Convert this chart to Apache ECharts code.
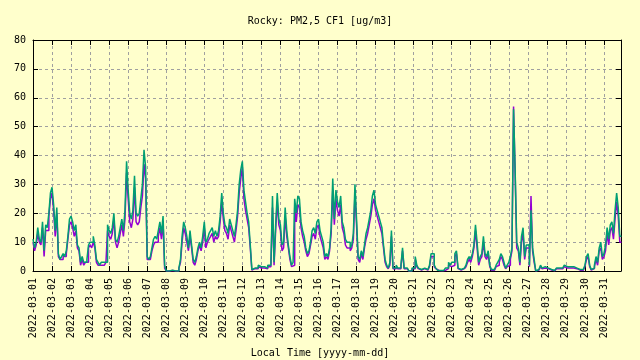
<!DOCTYPE html>
<html>
<head>
<meta charset="utf-8">
<script src="https://cdn.jsdelivr.net/npm/echarts@6/dist/echarts.min.js"></script>
<style>
html,body{margin:0;padding:0;background:#ffffcc;}
#chart{width:640px;height:360px;}
</style>
</head>
<body>
<div id="chart"></div>
<script>
// Data: 2-hour bins starting 2022-03-01 00:00 (12 values per day)
const startYearMonth = '2022-03-';
const stepHours = 2;
const yTicks = [0, 10, 20, 30, 40, 50, 60, 70, 80];

const tealValues = [
  11, 8, 10, 15, 11, 10, 17, 7, 16, 15, 20, 27,
  29, 23, 14, 22, 6, 4, 5, 6, 5, 7, 12, 18,
  19, 17, 14, 16, 9, 8, 3, 5, 3, 3, 4, 9,
  10, 10, 12, 9, 4, 3, 2, 3, 3, 3, 3, 16,
  14, 13, 15, 20, 11, 10, 12, 15, 18, 14, 21, 38,
  28, 20, 18, 21, 33, 20, 19, 20, 25, 30, 42, 36,
  5, 4, 5, 8, 11, 12, 11, 14, 17, 13, 19, 2,
  0, 0, 0.5, 0.3, 0, 0, 0, 0, 1, 4, 12, 17,
  15, 12, 8, 14, 9, 4, 3, 5, 8, 10, 8, 12,
  17, 10, 11, 13, 14, 15, 12, 14, 12, 14, 19, 27,
  20, 16, 15, 13, 18, 16, 14, 12, 16, 21, 30, 35,
  38, 28, 24, 20, 17, 9, 0.5, 1, 1.5, 1, 2, 1.5,
  2, 1.5, 1, 1, 2, 2, 2, 26, 3, 16, 27, 18,
  16, 9, 10, 22, 14, 9, 5, 2, 3, 25, 20, 26,
  25, 17, 14, 12, 8, 6, 7, 10, 14, 15, 13, 17,
  18, 14, 12, 10, 5, 6, 5, 8, 15, 32, 18, 28,
  24, 22, 26, 17, 15, 11, 10, 10, 8, 9, 13, 30,
  18, 5, 4, 7, 5, 9, 13, 15, 18, 21, 26, 28,
  23, 21, 19, 17, 15, 9, 4, 2, 1, 3, 14, 1,
  1, 2, 1, 1, 2, 8, 1, 1, 0.5, 0, 0, 1,
  1, 5, 2, 1, 0.5, 0.5, 1, 0.5, 0.5, 1, 2, 6,
  6, 2, 1, 0.3, 0.2, 0.2, 0.2, 0.3, 1, 1, 3, 2,
  3, 3, 6, 7, 1, 0.5, 0.5, 1, 1, 2, 4, 5,
  4, 6, 9, 16, 10, 3, 5, 6, 12, 6, 5, 7,
  2, 0.5, 0.5, 1, 2, 3, 4, 6, 5, 3, 1, 2,
  3, 5, 8, 56, 35, 10, 8, 3, 12, 15, 5, 9,
  9, 2, 21, 8, 4, 0, 0.5, 1, 2, 1, 1.5, 1,
  1, 1, 0.5, 0.3, 0.2, 0.3, 1, 1, 1.5, 1, 1.5, 2,
  1.5, 2, 1.5, 1.5, 1.5, 1, 1, 0.5, 0.5, 1, 0.5, 1,
  2, 5, 6, 2, 0.5, 1, 2, 5, 3, 8, 10, 5,
  6, 9, 15, 11, 16, 17, 13, 21, 27, 22, 12, 12
];

const purpleValues = [
  10, 7, 9, 13, 10, 9, 15, 5, 14, 14, 19, 25,
  27, 21, 12, 20, 5, 4, 4, 5, 5, 6, 11, 16,
  17, 15, 12, 14, 8, 7, 2, 4, 2, 3, 3, 8,
  9, 8, 10, 8, 3, 2, 2, 2, 2, 2, 3, 14,
  12, 11, 13, 18, 10, 8, 10, 13, 16, 12, 18, 34,
  25, 17, 15, 18, 29, 17, 16, 17, 22, 26, 37, 32,
  4, 4, 4, 7, 9, 10, 10, 12, 15, 11, 17, 1,
  0, 0, 0.3, 0.2, 0, 0, 0, 0, 1, 3, 10, 15,
  13, 10, 7, 12, 8, 3, 2, 4, 7, 9, 7, 10,
  15, 8, 10, 11, 12, 13, 10, 12, 11, 12, 17, 24,
  18, 14, 13, 11, 16, 14, 12, 10, 14, 19, 27, 32,
  36, 25, 21, 18, 15, 8, 0.3, 0.8, 1, 0.8, 1.5, 1,
  1.5, 1, 0.8, 0.8, 1.5, 1.5, 1.5, 22, 2, 14, 24, 16,
  14, 7, 8, 19, 12, 8, 4, 1.5, 2, 22, 17, 23,
  22, 15, 12, 10, 7, 5, 6, 9, 12, 13, 11, 15,
  16, 12, 10, 8, 4, 5, 4, 7, 13, 28, 16, 25,
  21, 19, 23, 15, 13, 9, 8, 8, 7, 8, 11, 27,
  16, 4, 3, 6, 4, 8, 11, 13, 16, 19, 23, 25,
  21, 19, 17, 15, 13, 8, 3, 1.5, 0.8, 2, 12, 0.8,
  0.8, 1.5, 0.8, 0.8, 1.5, 7, 0.8, 0.8, 0.3, 0, 0, 0.8,
  0.8, 4, 1.5, 0.8, 0.3, 0.3, 0.8, 0.3, 0.3, 0.8, 1.5, 5,
  5, 1.5, 0.8, 0.2, 0.1, 0.1, 0.1, 0.2, 0.8, 0.8, 2, 1.5,
  2, 2, 5, 6, 0.8, 0.3, 0.3, 0.8, 0.8, 1.5, 3, 4,
  3, 5, 8, 14, 8, 2, 4, 5, 10, 5, 4, 6,
  1.5, 0.3, 0.3, 0.8, 1.5, 2, 3, 5, 4, 2, 0.8, 1.5,
  2, 4, 7, 57, 34, 8, 7, 2, 10, 13, 4, 8,
  8, 1.5, 26, 7, 3, 0, 0.3, 0.8, 1.5, 0.8, 1, 0.8,
  0.8, 0.8, 0.3, 0.2, 0.1, 0.2, 0.8, 0.8, 1, 0.8, 1, 1.5,
  1, 1.5, 1, 1, 1, 0.8, 0.8, 0.3, 0.3, 0.8, 0.3, 0.8,
  1.5, 4, 5, 1.5, 0.3, 0.8, 1.5, 4, 2, 7, 8, 4,
  5, 7, 13, 9, 14, 15, 11, 18, 24, 19, 10, 10
];

const xMaxHours = 741.5;
const font = '"DejaVu Sans Mono", "Liberation Mono", monospace';

function toPairs(vals) {
  return vals.map((v, i) => [i * stepHours, v]);
}
function dayLabel(h) {
  const d = Math.round(h / 24) + 1;
  return startYearMonth + (d < 10 ? '0' + d : '' + d);
}

const chart = echarts.init(document.getElementById('chart'), null, {renderer: 'canvas'});
const gridLine = {show: true, lineStyle: {color: '#a0a0a0', type: [3, 3], width: 1}};
const blackLine = {show: true, onZero: false, lineStyle: {color: '#000', width: 1}};
const tick = {show: true, inside: true, length: 5, lineStyle: {color: '#000'}};

chart.setOption({
  backgroundColor: '#ffffcc',
  animation: false,
  title: [
    {text: 'Rocky: PM2,5 CF1 [ug/m3]', left: 'center', top: 11,
     textStyle: {fontFamily: font, fontSize: 10, fontWeight: 'normal', color: '#000'}},
    {text: 'Local Time [yyyy-mm-dd]', left: 'center', top: 343,
     textStyle: {fontFamily: font, fontSize: 10, fontWeight: 'normal', color: '#000'}}
  ],
  grid: {left: 33, right: 19, top: 40, bottom: 89, containLabel: false},
  xAxis: [
    {type: 'value', min: 0, max: xMaxHours, interval: 24, position: 'bottom',
     axisLine: blackLine, axisTick: tick, splitLine: gridLine,
     axisLabel: {rotate: 90, margin: 7, fontFamily: font, fontSize: 10, color: '#000',
                 showMaxLabel: false, formatter: dayLabel}},
    {type: 'value', min: 0, max: xMaxHours, interval: 24, position: 'top',
     axisLine: blackLine, axisTick: tick, splitLine: {show: false}, axisLabel: {show: false}}
  ],
  yAxis: [
    {type: 'value', min: yTicks[0], max: yTicks[yTicks.length - 1], interval: 10,
     axisLine: blackLine, axisTick: tick, splitLine: gridLine,
     axisLabel: {margin: 7, fontFamily: font, fontSize: 10, color: '#000'}},
    {type: 'value', min: yTicks[0], max: yTicks[yTicks.length - 1], interval: 10, position: 'right',
     axisLine: blackLine, axisTick: tick, splitLine: {show: false}, axisLabel: {show: false}}
  ],
  series: [
    {type: 'line', name: 'B', data: toPairs(purpleValues), step: 'end', showSymbol: false,
     lineStyle: {color: '#9400d3', width: 1.5}, itemStyle: {color: '#9400d3'}, z: 2},
    {type: 'line', name: 'A', data: toPairs(tealValues), step: 'end', showSymbol: false,
     lineStyle: {color: '#009e73', width: 1.5}, itemStyle: {color: '#009e73'}, z: 3}
  ]
});
</script>
</body>
</html>
